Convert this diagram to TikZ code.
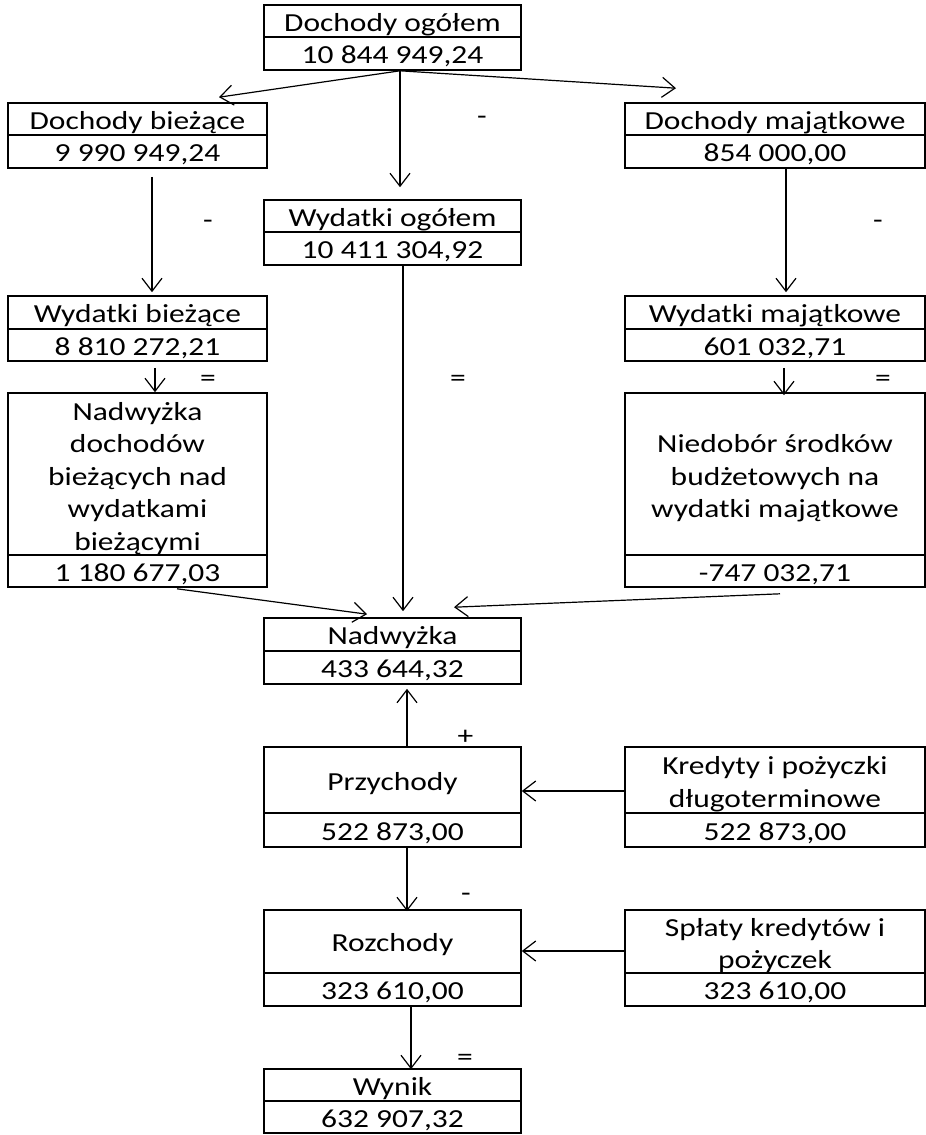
\documentclass[tikz,border=0pt]{standalone}
\usepackage{fontspec}
\setmainfont{Carlito}[FakeStretch=1.21]
\usetikzlibrary{arrows.meta}
\newcommand\firstln[1]{\raisebox{0pt}[22pt][\depth]{#1}}
\newcommand\lastln[1]{\raisebox{0pt}[\height][0pt]{#1}}
\begin{document}
\begin{tikzpicture}[x=1pt,y=-1pt,
  box/.style={draw, line width=1.6pt, inner sep=0pt, font=\fontsize{26}{32.5}\selectfont},
  one/.style={box, text height=22pt, text depth=2pt},
  multi/.style={box, align=center},
  colL/.style={minimum width=259pt},
  colM/.style={minimum width=257pt},
  colR/.style={minimum width=300pt},
  ht/.style={minimum height=#1},
  link/.style={line width=1.2pt, -{Straight Barb[length=13pt,width=20pt]}},
  op/.style={inner sep=0pt, anchor=base, font=\fontsize{26}{26}\selectfont}]
\useasboundingbox (0,0) rectangle (926,1135);
% boxes
\node[one,colM,ht=32pt] (dogT) at (392.5,21) {Dochody ogółem};
\node[one,colM,ht=33pt] (dogV) at (392.5,53.5) {10 844 949,24};
\node[one,colL,ht=32pt] (dbT) at (137.5,119) {Dochody bieżące};
\node[one,colL,ht=33pt] (dbV) at (137.5,151.5) {9 990 949,24};
\node[one,colR,ht=32pt] (dmT) at (775,119) {Dochody majątkowe};
\node[one,colR,ht=33pt] (dmV) at (775,151.5) {854 000,00};
\node[one,colM,ht=32pt] (woT) at (392.5,216) {Wydatki ogółem};
\node[one,colM,ht=33pt] (woV) at (392.5,248.5) {10 411 304,92};
\node[one,colL,ht=33pt] (wbT) at (137.5,312.5) {Wydatki bieżące};
\node[one,colL,ht=32pt] (wbV) at (137.5,345) {8 810 272,21};
\node[one,colR,ht=33pt] (wmT) at (775,312.5) {Wydatki majątkowe};
\node[one,colR,ht=32pt] (wmV) at (775,345) {601 032,71};
\node[multi,colL,ht=162pt] (ndT) at (137.5,474) {\firstln{Nadwyżka}\\dochodów\\bieżących nad\\wydatkami\\\lastln{bieżącymi}};
\node[one,colL,ht=32pt] (ndV) at (137.5,571) {1 180 677,03};
\node[multi,colR,ht=162pt] (nbT) at (775,474) {\firstln{Niedobór środków}\\budżetowych na\\\lastln{wydatki majątkowe}};
\node[one,colR,ht=32pt] (nbV) at (775,571) {-747 032,71};
\node[one,colM,ht=33pt] (nadT) at (392.5,634.5) {Nadwyżka};
\node[one,colM,ht=33pt] (nadV) at (392.5,667.5) {433 644,32};
\node[one,colM,ht=66pt] (przT) at (392.5,780) {Przychody};
\node[one,colM,ht=34pt] (przV) at (392.5,830) {522 873,00};
\node[multi,colR,ht=66pt] (krT) at (775,780) {\firstln{Kredyty i pożyczki}\\\lastln{długoterminowe}};
\node[one,colR,ht=34pt] (krV) at (775,830) {522 873,00};
\node[one,colM,ht=63pt] (rozT) at (392.5,941.5) {Rozchody};
\node[one,colM,ht=33pt] (rozV) at (392.5,989.5) {323 610,00};
\node[multi,colR,ht=63pt] (spT) at (775,941.5) {\firstln{Spłaty kredytów i}\\\lastln{pożyczek}};
\node[one,colR,ht=33pt] (spV) at (775,989.5) {323 610,00};
\node[one,colM,ht=32pt] (wyT) at (392.5,1085) {Wynik};
\node[one,colM,ht=32pt] (wyV) at (392.5,1117) {632 907,32};
% connectors
\draw[link] ([xshift=7.5pt]dogV.south) -- ([xshift=81.5pt,yshift=5pt]dbT.north);
\draw[link] ([xshift=7.5pt]dogV.south) -- ([xshift=-99pt,yshift=14pt]dmT.north);
\draw[link] ([xshift=7.5pt]dogV.south) -- ([xshift=7.5pt,yshift=12pt]woT.north);
\draw[link] ([xshift=14.5pt,yshift=-8pt]dbV.south) -- ([xshift=14.5pt,yshift=3pt]wbT.north);
\draw[link] ([xshift=11pt]dmV.south) -- ([xshift=11pt,yshift=3pt]wmT.north);
\draw[link] ([xshift=17.5pt,yshift=-6pt]wbV.south) -- ([xshift=17.5pt]ndT.north);
\draw[link] ([xshift=9pt,yshift=-6pt]wmV.south) -- ([xshift=9pt,yshift=-3pt]nbT.north);
\draw[link] ([xshift=10.5pt]woV.south) -- ([xshift=10.5pt,yshift=6pt]nadT.north);
\draw[link] ([xshift=39.5pt,yshift=-1pt]ndV.south) -- ([xshift=-25.5pt,yshift=3pt]nadT.north);
\draw[link] ([xshift=5pt,yshift=-6pt]nbV.south) -- ([xshift=61.5pt,yshift=10pt]nadT.north);
\draw[link] ([xshift=14.5pt]przT.north) -- ([xshift=14.5pt,yshift=-4pt]nadV.south);
\draw[link] ([yshift=-11pt]krT.west) -- ([yshift=-11pt]przT.east);
\draw[link] ([xshift=14.5pt]przV.south) -- ([xshift=14.5pt,yshift=-2pt]rozT.north);
\draw[link] ([yshift=-9.5pt]spT.west) -- ([yshift=-9.5pt]rozT.east);
\draw[link] ([xshift=18.5pt]rozV.south) -- ([xshift=18.5pt,yshift=-1pt]wyT.north);
% operators
\node[op] (s1) at (482,124) {-};
\node[op] (s2) at (208,228) {-};
\node[op] (s3) at (878,228) {-};
\node[op] (e1) at (208,386.5) {=};
\node[op] (e2) at (458,386.5) {=};
\node[op] (e3) at (883,386.5) {=};
\node[op] (p1) at (465.5,744.5) {+};
\node[op] (s4) at (466,901) {-};
\node[op] (e4) at (465,1065.5) {=};
\end{tikzpicture}
\end{document}
